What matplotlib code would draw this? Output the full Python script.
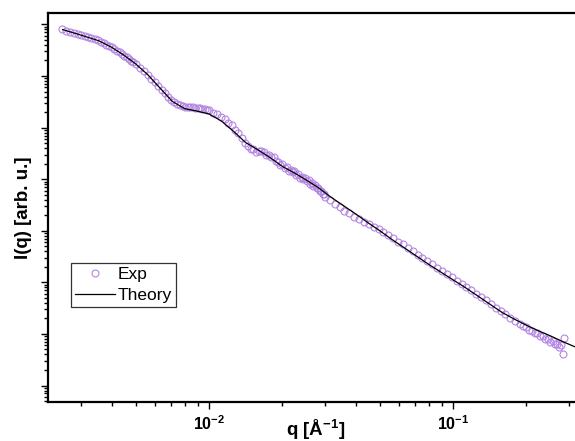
import matplotlib
matplotlib.use('Agg')
import matplotlib.pyplot as plt
from matplotlib.ticker import LogLocator, NullFormatter

plt.rcParams['font.family'] = ['Liberation Sans', 'DejaVu Sans']
plt.rcParams['mathtext.fontset'] = 'custom'
plt.rcParams['mathtext.rm'] = 'Liberation Sans'
plt.rcParams['mathtext.bf'] = 'Liberation Sans:bold'

# measured data, low-q part (dense)
q_low = [0.0025, 0.0026, 0.0027, 0.0028, 0.0029, 0.0030, 0.0031, 0.0032, 0.0033,
         0.0034, 0.0035, 0.0036, 0.0037, 0.0038, 0.0039, 0.0040, 0.0041, 0.0042,
         0.0043, 0.0044, 0.0045, 0.0046, 0.0047, 0.0048, 0.0049, 0.0050,
         0.0052, 0.0054, 0.0056, 0.0058, 0.0060, 0.0062, 0.0064, 0.0066, 0.0068,
         0.0070, 0.0072, 0.0074, 0.0076, 0.0078, 0.0080, 0.0082, 0.0084, 0.0086,
         0.0088, 0.0090, 0.0092, 0.0094, 0.0096, 0.0098, 0.0100,
         0.0104, 0.0108, 0.0112, 0.0116, 0.0120, 0.0124, 0.0128, 0.0132, 0.0136,
         0.0140, 0.0144, 0.0148, 0.0152, 0.0156, 0.0160, 0.0164, 0.0168, 0.0172,
         0.0176, 0.0180, 0.0184, 0.0188, 0.0192, 0.0196, 0.0200, 0.0204, 0.0208,
         0.0212, 0.0216, 0.0220, 0.0224, 0.0228, 0.0232, 0.0236, 0.0240, 0.0244,
         0.0248, 0.0252, 0.0256, 0.0260, 0.0264, 0.0268, 0.0272, 0.0276, 0.0280,
         0.0284, 0.0288, 0.0292, 0.0296, 0.0300]
I_low = [8.00e6, 7.57e6, 7.16e6, 6.81e6, 6.47e6, 6.17e6, 5.87e6, 5.60e6, 5.35e6,
         5.11e6, 4.89e6, 4.62e6, 4.33e6, 4.06e6, 3.81e6, 3.58e6, 3.32e6, 3.08e6,
         2.87e6, 2.68e6, 2.49e6, 2.31e6, 2.14e6, 1.99e6, 1.85e6, 1.72e6,
         1.46e6, 1.245e6, 1.067e6, 8.93e5, 7.50e5, 6.34e5, 5.38e5, 4.60e5, 3.95e5,
         3.41e5, 3.09e5, 2.92e5, 2.74e5, 2.57e5, 2.48e5, 2.48e5, 2.48e5, 2.45e5,
         2.43e5, 2.40e5, 2.36e5, 2.31e5, 2.26e5, 2.21e5, 2.16e5,
         1.945e5, 1.841e5, 1.629e5, 1.486e5, 1.211e5, 1.138e5, 9.08e4, 7.74e4, 6.21e4,
         4.98e4, 4.33e4, 3.83e4, 3.81e4, 3.38e4, 3.45e4, 3.44e4, 3.42e4, 2.97e4,
         2.97e4, 2.64e4, 2.63e4, 2.23e4, 2.17e4, 1.85e4, 1.94e4, 1.68e4, 1.71e4,
         1.45e4, 1.51e4, 1.35e4, 1.41e4, 1.20e4, 1.25e4, 1.06e4, 1.11e4, 9.89e3,
         1.06e4, 9.25e3, 9.44e3, 8.04e3, 8.41e3, 7.52e3, 7.87e3, 6.71e3, 6.89e3,
         6.00e3, 5.97e3, 5.19e3, 5.16e3, 4.59e3]

# measured data, high-q part (sparse)
q_high = [0.03126, 0.03273, 0.03428, 0.03589, 0.03758, 0.03936, 0.04121, 0.04315,
          0.04519, 0.04732, 0.04955, 0.05188, 0.05433, 0.05689, 0.05957, 0.06237,
          0.06531, 0.06839, 0.07161, 0.07499, 0.07852, 0.08222, 0.08610, 0.09016,
          0.09441, 0.09886, 0.1035, 0.1084, 0.1135, 0.1189, 0.1245, 0.1303, 0.1365,
          0.1429, 0.1496, 0.1567, 0.1641, 0.1718, 0.1799, 0.1884, 0.1941, 0.1995,
          0.2051, 0.2109, 0.2163, 0.2218, 0.2275, 0.2333, 0.2388, 0.2443, 0.2500,
          0.2559, 0.2612, 0.2667, 0.2716, 0.2767, 0.2812, 0.2851]
I_high = [3963, 3327, 2871, 2421, 2188, 1845, 1656, 1449, 1330, 1175,
          1062, 953, 834, 731, 617, 545, 459, 406, 342, 302,
          255, 226, 188, 168, 143, 127, 108, 92.3, 82.0, 70.8,
          59.7, 52.7, 44.5, 38.4, 32.4, 27.3, 24.6, 20.8, 17.7, 15.5,
          14.1, 13.8, 11.9, 11.4, 10.3, 10.2, 9.04, 8.99, 8.02, 8.02,
          6.98, 7.45, 6.35, 6.50, 5.69, 6.14, 4.1, 8.2]

# model curve
q_theory = [0.002512, 0.002818, 0.003162, 0.003548, 0.003981, 0.004467, 0.005012,
            0.005623, 0.006310, 0.007079, 0.007943, 0.008913, 0.01, 0.01122, 0.01259,
            0.01413, 0.01585, 0.01778, 0.01995, 0.02239, 0.02512, 0.02818, 0.03162,
            0.03548, 0.03981, 0.04467, 0.05012, 0.05623, 0.06310, 0.07079, 0.07943,
            0.08913, 0.1, 0.1122, 0.1259, 0.1413, 0.1585, 0.1778, 0.1995, 0.2239,
            0.2512, 0.2818, 0.3162]
I_theory = [7.94e6, 6.75e6, 5.70e6, 4.79e6, 3.63e6, 2.56e6, 1.71e6, 1.05e6, 5.79e5,
            3.22e5, 2.33e5, 2.09e5, 1.84e5, 1.35e5, 8.51e4, 5.13e4, 3.72e4, 2.63e4,
            1.78e4, 1.32e4, 9.55e3, 6.76e3, 4.47e3, 3.09e3, 2.14e3, 1.45e3, 1.00e3,
            676, 468, 324, 224, 158, 112, 79.4, 55.0, 38.0, 26.3, 19.5, 14.8, 11.5,
            9.12, 7.08, 5.62]

fig = plt.figure(figsize=(5.75, 4.41), dpi=100)
ax = fig.add_axes([0.0835, 0.0884, 0.9165, 0.882])

purple = '#B384E4'
ax.plot(q_low + q_high, I_low + I_high, 'o', ms=5, mfc='none', mec=purple,
        mew=0.8, label='Exp', zorder=2)
ax.plot(q_theory, I_theory, '-', color='black', lw=0.9, label='Theory', zorder=3)

ax.set_xscale('log')
ax.set_yscale('log')
ax.set_xlim(0.00219, 0.3162)
ax.set_ylim(10 ** -0.32, 10 ** 7.22)

ax.set_xticks([0.01, 0.1], [r'$\mathbf{10^{-2}}$', r'$\mathbf{10^{-1}}$'])
ax.xaxis.set_minor_locator(LogLocator(base=10, subs=range(2, 10), numticks=20))
ax.xaxis.set_minor_formatter(NullFormatter())
ax.yaxis.set_major_locator(LogLocator(base=10, numticks=20))
ax.yaxis.set_minor_locator(LogLocator(base=10, subs=range(2, 10), numticks=20))
ax.yaxis.set_major_formatter(NullFormatter())
ax.yaxis.set_minor_formatter(NullFormatter())

ax.tick_params(which='both', direction='out', top=False, right=False, width=1)
ax.tick_params(which='major', length=5)
ax.tick_params(which='minor', length=3)
ax.tick_params(axis='x', which='major', labelsize=11.5, pad=4)

for s in ['left', 'bottom', 'top']:
    ax.spines[s].set_linewidth(1.6)
ax.spines['right'].set_visible(False)

ax.set_xlabel(r'q [Å$^{\mathbf{-1}}$]', fontsize=13.5, fontweight='bold')
ax.set_ylabel('I(q) [arb. u.]', fontsize=13.5, fontweight='bold')
ax.xaxis.set_label_coords(0.507, -0.04)
ax.yaxis.set_label_coords(-0.03, 0.5)

leg = ax.legend(loc='upper left', bbox_to_anchor=(0.043, 0.358), borderaxespad=0,
                fontsize=12.5, fancybox=False, edgecolor='#333333', framealpha=1,
                handlelength=2.3, handletextpad=0.15, borderpad=0.25,
                labelspacing=0.3, numpoints=1)
leg.get_frame().set_linewidth(0.9)

fig.savefig('out.png', dpi=100)
